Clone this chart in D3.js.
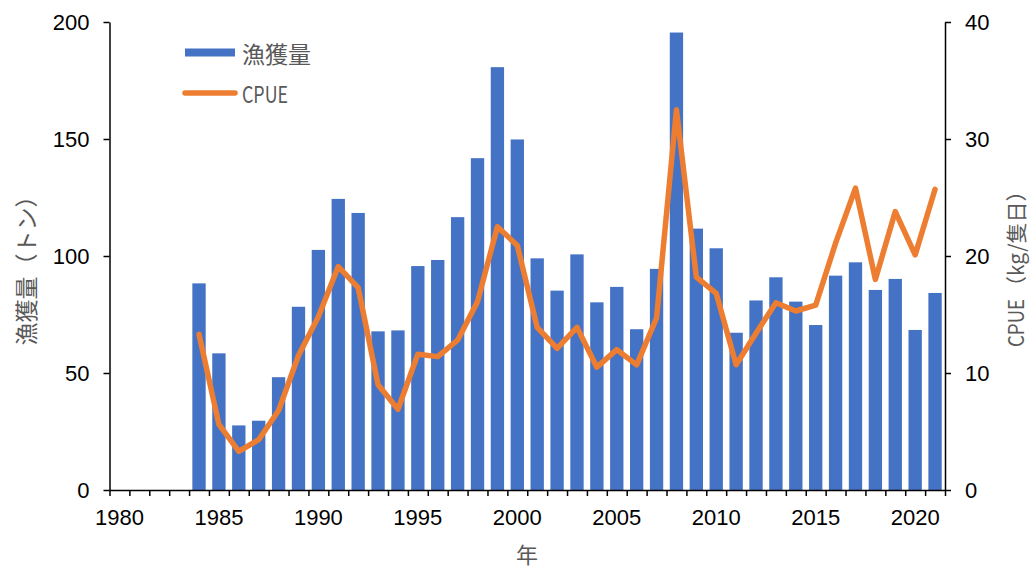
<!DOCTYPE html>
<html>
<head>
<meta charset="utf-8">
<script src="https://cdn.jsdelivr.net/npm/d3@7"></script>
<style>
  body { margin: 0; background: #fff; }
  svg { display: block; }
  .tick text { font-family: "Liberation Sans", Arial, sans-serif; font-size: 22px; fill: #000; }
  .title { font-family: "Noto Sans CJK JP", sans-serif; fill: #595959; }
</style>
</head>
<body>
<svg id="chart" width="1032" height="570"></svg>
<script>
	// years on the category axis (1980-2021), data from 1984
	const years = d3.range(1980, 2022);
	const dataYears = d3.range(1984, 2022);
	// 漁獲量 (トン)
	const catch_t = [88.3, 58.4, 27.6, 29.6, 48.2, 78.3, 102.6, 124.4, 118.4, 67.8,
		68.2, 95.7, 98.3, 116.6, 141.8, 180.7, 149.8, 99.0, 85.2, 100.7,
		80.2, 86.8, 68.7, 94.5, 195.5, 111.7, 103.3, 67.2, 81.0, 90.9,
		80.5, 70.5, 91.6, 97.3, 85.5, 90.2, 68.4, 84.2];
	// CPUE (kg/隻日)
	const cpue = [13.3, 5.6, 3.3, 4.3, 6.8, 11.5, 14.8, 19.1, 17.3, 9.0,
		6.9, 11.6, 11.4, 12.8, 16.1, 22.5, 20.9, 13.9, 12.1, 13.9,
		10.5, 12.0, 10.7, 14.7, 32.5, 18.2, 16.8, 10.7, 13.4, 16.0,
		15.3, 15.8, 21.1, 25.8, 18.0, 23.8, 20.1, 25.7];
	const xLabels = [1980, 1985, 1990, 1995, 2000, 2005, 2010, 2015, 2020];
	const leftTicks = [0, 50, 100, 150, 200];
	const rightTicks = [0, 10, 20, 30, 40];

	const blue = "#4472C4", orange = "#ED7D31";
	const plotLeft = 109.5, plotRight = 945, plotTop = 22, plotBottom = 490;

	let svg = d3.select("#chart");

	let x = d3.scaleBand().domain(years).range([plotLeft, plotRight]).paddingInner(0.33).paddingOuter(0.165);
	let xEdge = d3.scaleLinear().domain([1980, 2022]).range([plotLeft, plotRight]);
	let y = d3.scaleLinear().domain([0, 200]).range([plotBottom, plotTop]);
	let y2 = d3.scaleLinear().domain([0, 40]).range([plotBottom, plotTop]);

	// bars
	svg.append("g").selectAll("rect")
		.data(dataYears)
		.enter()
		.append("rect")
		.attr("x", d => x(d))
		.attr("width", x.bandwidth())
		.attr("y", (d, i) => y(catch_t[i]))
		.attr("height", (d, i) => plotBottom - y(catch_t[i]))
		.attr("fill", blue);

	// CPUE line
	let line = d3.line()
		.x((d, i) => x(dataYears[i]) + x.bandwidth() / 2)
		.y(d => y2(d));

	svg.append("path")
		.datum(cpue)
		.attr("d", line)
		.attr("fill", "none")
		.attr("stroke", orange)
		.attr("stroke-width", 5.5)
		.attr("stroke-linejoin", "round")
		.attr("stroke-linecap", "round");

	// axes
	function styleAxis(g) {
		g.selectAll(".domain, .tick line").attr("stroke", "#000").attr("stroke-width", 1.5);
	}

	svg.append("g")
		.attr("transform", "translate(0," + plotBottom + ")")
		.call(d3.axisBottom(xEdge).tickValues(d3.range(1980, 2023)).tickFormat("").tickSize(6).tickSizeOuter(0))
		.call(styleAxis);

	svg.append("g")
		.attr("transform", "translate(0," + plotBottom + ")")
		.call(d3.axisBottom(x).tickValues(xLabels).tickSize(0).tickPadding(19))
		.call(g => g.select(".domain").remove());

	svg.append("g")
		.attr("transform", "translate(" + plotLeft + ",0)")
		.call(d3.axisLeft(y).tickValues(leftTicks).tickSize(6).tickSizeOuter(0).tickPadding(14))
		.call(styleAxis);

	svg.append("g")
		.attr("transform", "translate(" + plotRight + ",0)")
		.call(d3.axisRight(y2).tickValues(rightTicks).tickSize(6).tickSizeOuter(0).tickPadding(14))
		.call(styleAxis);

	// axis titles
	svg.append("text")
		.attr("class", "title")
		.attr("x", 527)
		.attr("y", 553)
		.attr("text-anchor", "middle")
		.attr("dominant-baseline", "central")
		.style("font-size", "22px")
		.text("年");

	svg.append("text")
		.attr("class", "title")
		.attr("transform", "translate(25,265) rotate(-90)")
		.attr("text-anchor", "middle")
		.attr("dominant-baseline", "central")
		.style("font-size", "23px")
		.text("漁獲量（トン）");

	let rt = svg.append("g").attr("transform", "translate(1015,262) rotate(-90)");
	rt.append("text")
		.attr("class", "title")
		.attr("x", -85)
		.attr("dominant-baseline", "central")
		.attr("textLength", 48)
		.attr("lengthAdjust", "spacingAndGlyphs")
		.style("font-size", "21px")
		.text("CPUE");
	rt.append("text")
		.attr("class", "title")
		.attr("x", -35)
		.attr("dominant-baseline", "central")
		.style("font-size", "21px")
		.text("（kg/隻日）");

	// legend
	let legend = svg.append("g");
	legend.append("rect")
		.attr("x", 185).attr("y", 48.5)
		.attr("width", 50).attr("height", 8)
		.attr("fill", blue);
	legend.append("text")
		.attr("class", "title")
		.attr("x", 242).attr("y", 52.5)
		.attr("dominant-baseline", "central")
		.style("font-size", "23px")
		.text("漁獲量");
	legend.append("line")
		.attr("x1", 185).attr("x2", 235)
		.attr("y1", 93).attr("y2", 93)
		.attr("stroke", orange)
		.attr("stroke-width", 5.5)
		.attr("stroke-linecap", "round");
	legend.append("text")
		.attr("class", "title")
		.attr("x", 242).attr("y", 93)
		.attr("dominant-baseline", "central")
		.attr("textLength", 46)
		.attr("lengthAdjust", "spacingAndGlyphs")
		.style("font-size", "23px")
		.text("CPUE");
</script>
</body>
</html>
